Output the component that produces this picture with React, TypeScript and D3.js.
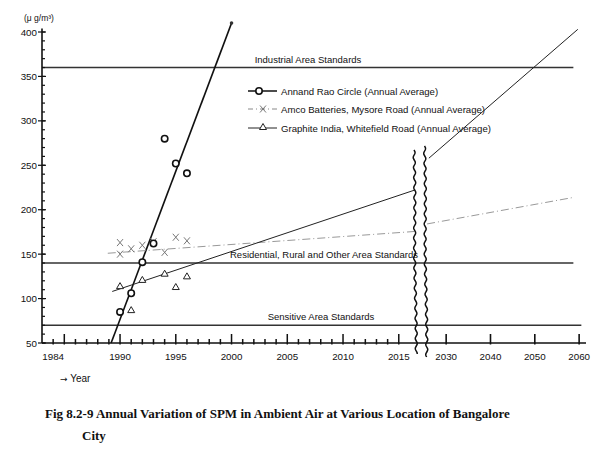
import React from "react";
import * as d3 from "d3";

// ---- data ----
const annandYears = [1990, 1991, 1992, 1993, 1994, 1995, 1996];
const annandValues = [85, 106, 141, 162, 280, 252, 241];
const amcoYears = [1990, 1990, 1991, 1992, 1993, 1994, 1995, 1996];
const amcoValues = [163, 150, 156, 160, 164, 152, 169, 165];
const graphiteYears = [1990, 1991, 1992, 1994, 1995, 1996];
const graphiteValues = [114, 87, 121, 128, 113, 125];

// trend lines: [year, value]
const annandTrend: [number, number][] = [[1989.2, 50], [2000, 410]];
const amcoTrendPre: [number, number][] = [[1988.9, 151], [2016.4, 175.5]];
const amcoTrendPost: [number, number][] = [[2025.7, 184], [2058.9, 214]];
const graphiteTrendPre: [number, number][] = [[1989.3, 108], [2016.4, 222]];
const graphiteTrendPost: [number, number][] = [[2026.1, 258], [2059.7, 403]];

const standardValues = [360, 140, 70];
const standardLabels = [
  "Industrial Area Standards",
  "Residential, Rural and Other Area Standards",
  "Sensitive Area Standards",
];
const standardEndYears = [2058.7, 2058.7, 2060.5];

const yTickValues = [50, 100, 150, 200, 250, 300, 350, 400];
const xLabelYearsPre = [1984, 1990, 1995, 2000, 2005, 2010, 2015];
const xLabelYearsPost = [2030, 2040, 2050, 2060];

const legendLabels = [
  "Annand Rao Circle (Annual Average)",
  "Amco Batteries, Mysore Road (Annual Average)",
  "Graphite India, Whitefield Road (Annual Average)",
];

const FONT = "'Liberation Sans', Arial, sans-serif";

function wavy(x0: number, yTop: number, yBot: number, amp: number) {
  const pts: [number, number][] = [];
  for (let y = yTop; y <= yBot; y += 1) {
    const t = y - yTop;
    pts.push([x0 + amp * Math.sin(t / 1.6) + 0.4 * Math.sin(t / 23) + 0.01 * t, y]);
  }
  return d3.line()(pts) || "";
}

export default function App() {
  const xPre = d3.scaleLinear().domain([1983, 2016.5]).range([42, 415.5]);
  const xPost = d3.scaleLinear().domain([2025, 2062]).range([424, 588]);
  const y = d3.scaleLinear().domain([50, 400]).range([343, 32]);
  const axisY = y(50);

  const linePre = d3
    .line<[number, number]>()
    .x((d) => xPre(d[0]))
    .y((d) => y(d[1]));
  const linePost = d3
    .line<[number, number]>()
    .x((d) => xPost(d[0]))
    .y((d) => y(d[1]));

  const yMinor = d3.range(50, 401, 10);
  const xMinorPre = d3.range(1984, 2016, 1);

  const circle = (cx: number, cy: number, key: any, r = 3.2) => (
    <circle key={key} cx={cx} cy={cy} r={r} fill="white" stroke="#111" strokeWidth={1.6} />
  );
  const cross = (cx: number, cy: number, key: any) => (
    <path
      key={key}
      d={`M${cx - 3},${cy - 3.5}L${cx + 3},${cy + 3.5}M${cx + 3},${cy - 3.5}L${cx - 3},${cy + 3.5}`}
      stroke="#777"
      strokeWidth={1}
      fill="none"
    />
  );
  const tri = (cx: number, cy: number, key: any) => (
    <path
      key={key}
      d={`M${cx},${cy - 3.5}L${cx + 3.5},${cy + 2.5}L${cx - 3.5},${cy + 2.5}Z`}
      stroke="#222"
      strokeWidth={1}
      fill="white"
    />
  );

  const standardLabelX = [308, 324, 321];
  const legendY = [91, 109, 128];

  return (
    <svg
      width={600}
      height={455}
      style={{ position: "absolute", left: 0, top: 0, background: "white" }}
      fontFamily={FONT}
    >
      <rect x={0} y={0} width={600} height={455} fill="white" />

      {/* standards lines */}
      {standardValues.map((v, i) => (
        <g key={"s" + i}>
          <line
            x1={42}
            x2={xPost(standardEndYears[i])}
            y1={y(v)}
            y2={y(v)}
            stroke="#333"
            strokeWidth={1.6}
          />
          <text
            x={standardLabelX[i]}
            y={y(v) - 5}
            fontSize={9.5}
            textAnchor="middle"
            fill="#111"
          >
            {standardLabels[i]}
          </text>
        </g>
      ))}

      {/* legend */}
      <g>
        <line x1={248} x2={277} y1={legendY[0]} y2={legendY[0]} stroke="#111" strokeWidth={1.5} />
        {circle(259, legendY[0], "lc")}
        <line
          x1={248}
          x2={277}
          y1={legendY[1]}
          y2={legendY[1]}
          stroke="#888"
          strokeWidth={1}
          strokeDasharray="5,3,1,3"
        />
        {cross(263, legendY[1], "lx")}
        <line x1={248} x2={277} y1={legendY[2]} y2={legendY[2]} stroke="#222" strokeWidth={1} />
        {tri(263, legendY[2] - 1, "lt")}
        {legendLabels.map((t, i) => (
          <text key={"lt" + i} x={281} y={legendY[i] + 3.5} fontSize={9.6} fill="#111">
            {t}
          </text>
        ))}
      </g>

      {/* trend lines */}
      <path d={linePre(annandTrend) || ""} stroke="#111" strokeWidth={1.6} fill="none" />
      <circle cx={xPre(annandTrend[1][0])} cy={y(annandTrend[1][1])} r={1.8} fill="#333" />
      <path
        d={linePre(amcoTrendPre) || ""}
        stroke="#999"
        strokeWidth={1}
        strokeDasharray="8,3,1,3"
        fill="none"
      />
      <path
        d={linePost(amcoTrendPost) || ""}
        stroke="#999"
        strokeWidth={1}
        strokeDasharray="8,3,1,3"
        fill="none"
      />
      <path d={linePre(graphiteTrendPre) || ""} stroke="#222" strokeWidth={1} fill="none" />
      <path d={linePost(graphiteTrendPost) || ""} stroke="#222" strokeWidth={1} fill="none" />

      {/* points */}
      {amcoYears.map((yr, i) => cross(xPre(yr), y(amcoValues[i]), "a" + i))}
      {graphiteYears.map((yr, i) => tri(xPre(yr), y(graphiteValues[i]), "g" + i))}
      {annandYears.map((yr, i) => circle(xPre(yr), y(annandValues[i]), "c" + i))}

      {/* y axis */}
      <line x1={42} x2={42} y1={axisY} y2={y(404)} stroke="#111" strokeWidth={1.6} />
      {yMinor.map((v) => (
        <line key={"ym" + v} x1={42} x2={45} y1={y(v)} y2={y(v)} stroke="#111" strokeWidth={1.2} />
      ))}
      {yTickValues.map((v) => (
        <g key={"yt" + v}>
          <line x1={38} x2={46} y1={y(v)} y2={y(v)} stroke="#111" strokeWidth={1.2} />
          <text x={37} y={y(v) + 3.5} fontSize={9.8} textAnchor="end" fill="#111">
            {v}
          </text>
        </g>
      ))}
      <text x={24} y={21} fontSize={8.5} fill="#111">
        (μ g/m³)
      </text>

      {/* x axis */}
      <line x1={42} x2={586} y1={axisY} y2={axisY} stroke="#111" strokeWidth={1.6} />
      {xMinorPre.map((yr) => (
        <line
          key={"xm" + yr}
          x1={xPre(yr)}
          x2={xPre(yr)}
          y1={axisY + 1.5}
          y2={axisY - (yr % 5 === 0 ? 9 : 4)}
          stroke="#111"
          strokeWidth={1.5}
        />
      ))}
      {xLabelYearsPost.map((yr) => (
        <line
          key={"xp" + yr}
          x1={xPost(yr)}
          x2={xPost(yr)}
          y1={axisY + 1.5}
          y2={axisY - 9}
          stroke="#111"
          strokeWidth={1.6}
        />
      ))}
      {xLabelYearsPre.map((yr) => (
        <text key={"xl" + yr} x={xPre(yr)} y={360} fontSize={9.8} textAnchor="middle" fill="#111">
          {yr}
        </text>
      ))}
      {xLabelYearsPost.map((yr) => (
        <text key={"xlp" + yr} x={xPost(yr)} y={360} fontSize={9.8} textAnchor="middle" fill="#111">
          {yr}
        </text>
      ))}
      <text x={60} y={382} fontSize={10} fill="#111">
        <tspan fontFamily="'DejaVu Sans', sans-serif" fontSize={9}>→</tspan> Year
      </text>

      {/* axis break */}
      <path d={wavy(414, 150, 354, 1.0)} stroke="#111" strokeWidth={1.5} fill="none" />
      <path d={wavy(424.5, 146, 357, 1.0)} stroke="#111" strokeWidth={1.5} fill="none" />

      {/* caption */}
      <text
        x={45}
        y={418}
        fontFamily="'Liberation Serif', 'Times New Roman', serif"
        fontWeight="bold"
        fontSize={13}
        fill="#111"
      >
        Fig 8.2-9 Annual Variation of SPM in Ambient Air at Various Location of Bangalore
      </text>
      <text
        x={82}
        y={440}
        fontFamily="'Liberation Serif', 'Times New Roman', serif"
        fontWeight="bold"
        fontSize={13}
        fill="#111"
      >
        City
      </text>
    </svg>
  );
}
